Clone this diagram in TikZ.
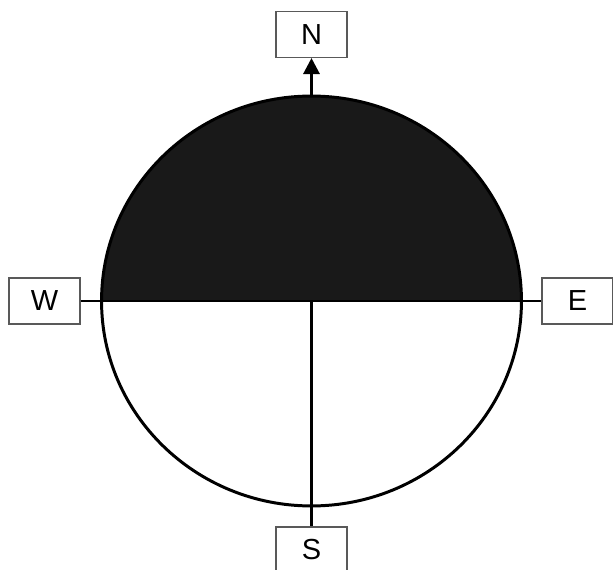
\documentclass[tikz,border=0pt]{standalone}
\usepackage{fontspec}
\setmainfont{Liberation Sans}
\usetikzlibrary{positioning,arrows.meta}

\tikzset{
  dirbox/.style={draw=black!65, line width=0.6pt, fill=white,
    minimum width=1.42cm, minimum height=0.92cm, inner sep=0pt,
    font=\fontsize{16.5}{18}\selectfont},
  axisline/.style={line width=1.7pt}
}

\begin{document}
\begin{tikzpicture}[x=0.02cm, y=0.02cm, >={Triangle[width=0.32cm,length=0.32cm]}]
		\useasboundingbox (0,0) rectangle (613,569);
		\clip (0,0) rectangle (613,569);
		
		\coordinate (c) at (311.5,268);
		\coordinate (top) at (311.5,473);
		
		% dark upper half and outline
		\fill[black!90] (c) ++(-4.2cm,0) arc[start angle=180,end angle=0,x radius=4.2cm,y radius=4.1cm] -- cycle;
		\draw[axisline] (c) ellipse [x radius=4.2cm, y radius=4.1cm];
		
		\node[dirbox] (N) at (311.5,534.5) {N};
		\node[dirbox] (S) at (311.5,19) {S};
		\node[dirbox] (W) at (44.5,268) {W};
		\node[dirbox] (E) at (577.5,268) {E};
		
		\draw[axisline] (W) -- (E);
		\draw[axisline] (c) -- (S);
		\draw[axisline, ->] (top) -- (N);
	\end{tikzpicture}
\end{document}
